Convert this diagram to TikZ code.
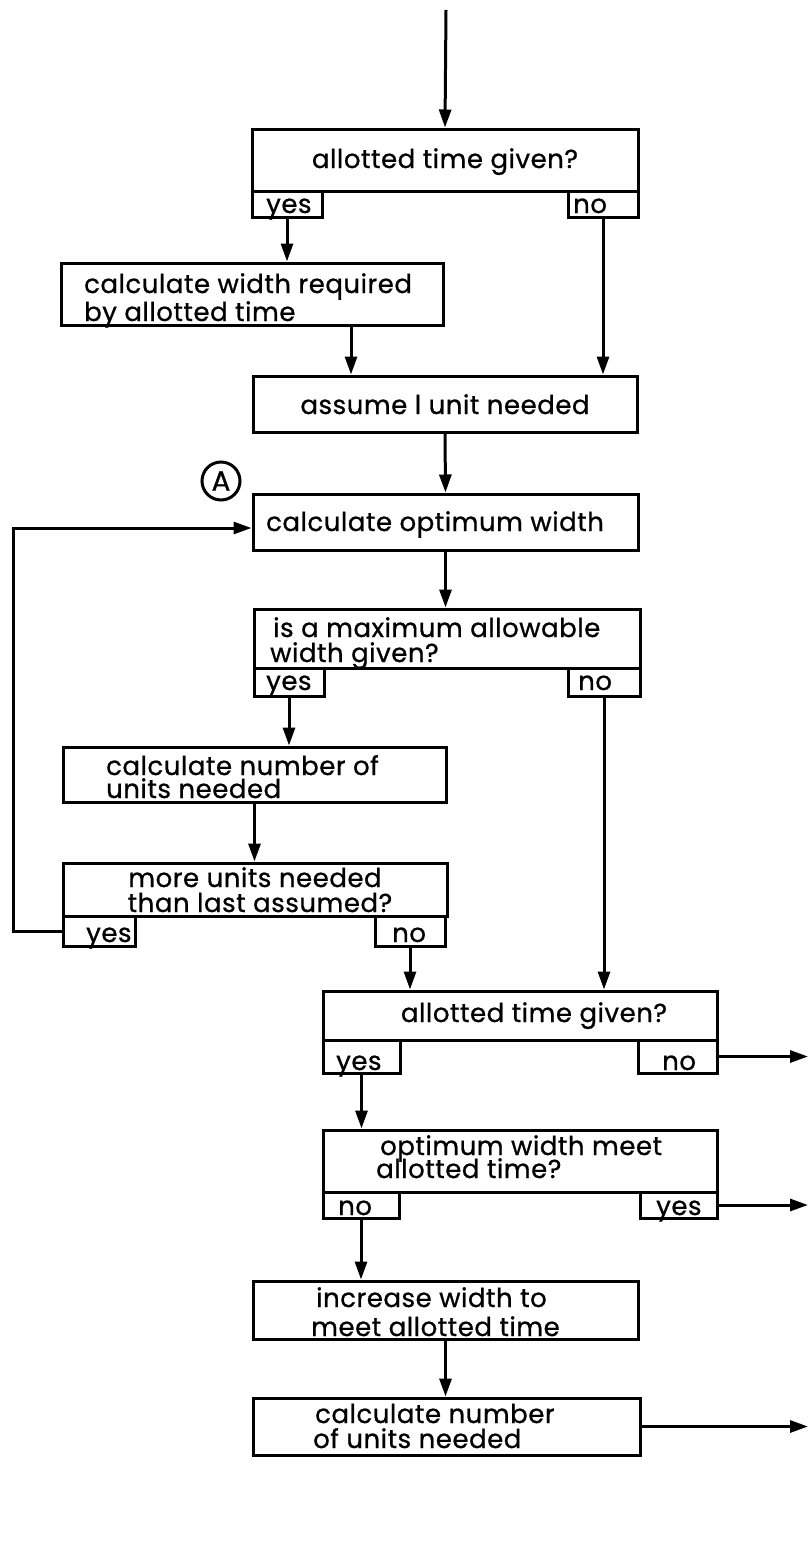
\documentclass[tikz,border=0pt]{standalone}
\usepackage{fontspec}
\setmainfont{Poppins}[LetterSpace=2,FakeBold=0.8]
\usetikzlibrary{arrows.meta}
\begin{document}
\begin{tikzpicture}[x=1pt,y=-1pt,
  box/.style={draw,rectangle,inner sep=0pt,line width=3pt},
  lbl/.style={inner sep=0pt,anchor=base west,font=\fontsize{26}{30}\selectfont},
  lblc/.style={lbl,anchor=base},
  flow/.style={-{Triangle[length=18pt,width=12pt]},line width=3pt}]
\useasboundingbox (0,0) rectangle (809,1566);

% decision and process boxes
\node[box,minimum width=386pt,minimum height=62pt] (b1) at (445,160) {};
\node[box,minimum width=70pt,minimum height=26pt] (t1y) at (287,204) {};
\node[box,minimum width=70pt,minimum height=26pt] (t1n) at (603,204) {};
\node[box,minimum width=382pt,minimum height=62pt] (b2) at (252,294) {};
\node[box,minimum width=384pt,minimum height=56pt] (b3) at (445,404) {};
\node[box,minimum width=385pt,minimum height=56pt] (b4) at (445.5,522) {};
\node[box,minimum width=386pt,minimum height=59pt] (b5) at (447,638.5) {};
\node[box,minimum width=70pt,minimum height=28pt] (t5y) at (289,682) {};
\node[box,minimum width=72pt,minimum height=28pt] (t5n) at (604,682) {};
\node[box,minimum width=383pt,minimum height=55pt] (b6) at (254.5,774.5) {};
\node[box,minimum width=384pt,minimum height=53pt] (b7) at (255,889.5) {};
\node[box,minimum width=72pt,minimum height=30pt] (t7y) at (99,931) {};
\node[box,minimum width=70pt,minimum height=30pt] (t7n) at (410,931) {};
\node[box,minimum width=394pt,minimum height=49pt] (b8) at (520,1015.5) {};
\node[box,minimum width=77pt,minimum height=33pt] (t8y) at (361.5,1056.5) {};
\node[box,minimum width=79pt,minimum height=33pt] (t8n) at (677.5,1056.5) {};
\node[box,minimum width=394pt,minimum height=62pt] (b9) at (520,1161) {};
\node[box,minimum width=76pt,minimum height=26pt] (t9n) at (361,1205) {};
\node[box,minimum width=77pt,minimum height=26pt] (t9y) at (678.5,1205) {};
\node[box,minimum width=385pt,minimum height=58pt] (b10) at (445.5,1310) {};
\node[box,minimum width=387pt,minimum height=57pt] (b11) at (446.5,1426.5) {};

% entry point marker
\node[draw,circle,line width=3pt,minimum size=38pt,inner sep=0pt,
  font=\fontsize{28}{28}\selectfont] (A) at (221,481) {A};

% box texts
\node[lblc] (x1) at (445,168) {allotted time given?};
\node[lbl] (x1y) at (266,213) {yes};
\node[lbl] (x1n) at (573,213) {no};
\node[lbl] (x2a) at (84,293) {calculate width required};
\node[lbl] (x2b) at (84,321) {by allotted time};
\node[lblc] (x3) at (445,414) {assume l unit needed};
\node[lbl] (x4) at (266,531) {calculate optimum width};
\node[lbl] (x5a) at (273,637) {is a maximum allowable};
\node[lbl] (x5b) at (270,662) {width given?};
\node[lbl] (x5y) at (266,690) {yes};
\node[lbl] (x5n) at (578,690) {no};
\node[lbl] (x6a) at (106,775) {calculate number of};
\node[lbl] (x6b) at (106,798) {units needed};
\node[lblc] (x7a) at (255,887) {more units needed};
\node[lblc] (x7b) at (260,912) {than last assumed?};
\node[lbl] (x7y) at (86,942) {yes};
\node[lbl] (x7n) at (392,942) {no};
\node[lblc] (x8) at (534,1022) {allotted time given?};
\node[lbl] (x8y) at (336,1070) {yes};
\node[lbl] (x8n) at (662,1070) {no};
\node[lbl] (x9a) at (380,1155) {optimum width meet};
\node[lbl] (x9b) at (376,1178) {allotted time?};
\node[lbl] (x9n) at (338,1215) {no};
\node[lbl] (x9y) at (656,1215) {yes};
\node[lbl] (x10a) at (316,1307) {increase width to};
\node[lbl] (x10b) at (311,1336) {meet allotted time};
\node[lbl] (x11a) at (315,1423) {calculate number};
\node[lbl] (x11b) at (313,1448) {of units needed};

% free ends
\coordinate (start) at (446,10);
\coordinate (lp) at (13,931);
\coordinate (o1) at (808,1056.5);
\coordinate (o2) at (808,1205);
\coordinate (o3) at (808,1426.5);

% connectors
\draw[flow] (start) -- (b1.north);
\draw[flow] (t1y.south) -- (t1y.south |- b2.north);
\draw[flow] (t1n.south) -- (t1n.south |- b3.north);
\draw[flow] ([xshift=99pt]b2.south) -- ([xshift=99pt]b2.south |- b3.north);
\draw[flow] (b3.south) -- (b4.north);
\draw[flow] (b4.south) -- (b4.south |- b5.north);
\draw[flow] (t5y.south) -- (t5y.south |- b6.north);
\draw[flow] (t5n.south) -- (t5n.south |- b8.north);
\draw[flow] (b6.south) -- (b6.south |- b7.north);
\draw[flow] (t7y.west) -- (lp) |- ([yshift=-6pt]b4.west);
\draw[flow] (t7n.south) -- (t7n.south |- b8.north);
\draw[flow] (t8n.east) -- (o1);
\draw[flow] (t8y.south) -- (t8y.south |- b9.north);
\draw[flow] (t9y.east) -- (o2);
\draw[flow] (t9n.south) -- (t9n.south |- b10.north);
\draw[flow] (b10.south) -- (b10.south |- b11.north);
\draw[flow] (b11.east) -- (o3);
\end{tikzpicture}
\end{document}
